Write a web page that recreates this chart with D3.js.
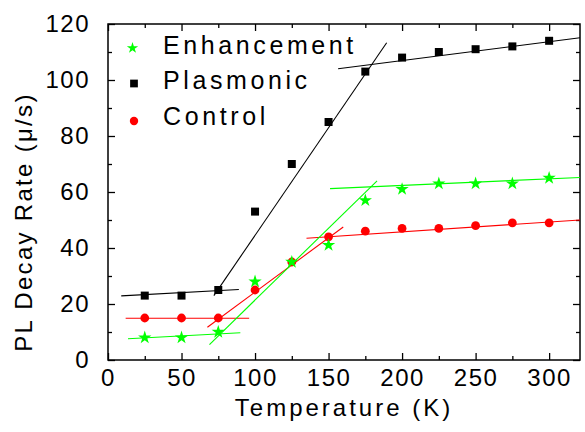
<!DOCTYPE html>
<html>
<head>
<meta charset="utf-8">
<script src="https://cdn.jsdelivr.net/npm/d3@7"></script>
<style>
  body { margin: 0; background: #fff; }
  svg text { font-family: "Liberation Sans", Arial, sans-serif; fill: #000; }
</style>
</head>
<body>
<div id="chart"></div>
<script>
// temperatures (K)
var temps = [25, 50, 75, 100, 125, 150, 175, 200, 225, 250, 275, 300];

// decay rates
var enhancement = [8, 8, 10, 28, 35, 41, 57, 61, 63, 63, 63, 65];
var plasmonic = [23, 23, 25, 53, 70, 85, 103, 108, 110, 111, 112, 114];
var control = [15, 15, 15, 25, 35, 44, 46, 47, 47, 48, 49, 49];

// linear fit segments [[x1, y1], [x2, y2]]
var plasmonicFits = [[[9, 22.9], [89, 25.2]], [[72, 23], [189.5, 113.3]], [[156.5, 104], [321, 115.1]]];
var controlFits = [[[12, 14.9], [96, 14.9]], [[67.6, 11.7], [160, 47.5]], [[135, 43.5], [321, 50]]];
var enhancementFits = [[[13.6, 7.6], [90, 9.75]], [[69, 5.5], [183, 64]], [[151, 61.2], [321, 65.2]]];

var xMajor = [0, 50, 100, 150, 200, 250, 300];
var xMinor = [25, 75, 125, 175, 225, 275];
var yMajor = [0, 20, 40, 60, 80, 100, 120];
var yMinor = [10, 30, 50, 70, 90, 110];

var legendNames = ["Enhancement", "Plasmonic", "Control"];

var width = 585, height = 432;
var padL = 108, padR = 580, padT = 24, padB = 360;

var svg = d3.select("#chart").append("svg")
    .attr("width", width)
    .attr("height", height);

var x = d3.scaleLinear().domain([0, 321]).range([padL, padR]);
var y = d3.scaleLinear().domain([0, 120]).range([padB, padT]);

function styleAxis(g) {
    g.select(".domain").remove();
    g.selectAll("line").attr("stroke", "#000").attr("stroke-width", 1.3);
    g.selectAll("text")
        .style("font-size", "24px")
        .style("letter-spacing", "1.5px");
}

// bottom axis with labels
svg.append("g").attr("transform", "translate(0," + padB + ")")
    .call(d3.axisBottom(x).tickValues(xMajor).tickSize(-7).tickPadding(9).tickFormat(d3.format("d")))
    .call(styleAxis);
svg.append("g").attr("transform", "translate(0," + padB + ")")
    .call(d3.axisBottom(x).tickValues(xMinor).tickSize(-4).tickFormat(""))
    .call(styleAxis);
// top mirror
svg.append("g").attr("transform", "translate(0," + padT + ")")
    .call(d3.axisTop(x).tickValues(xMajor).tickSize(-7).tickFormat(""))
    .call(styleAxis);
svg.append("g").attr("transform", "translate(0," + padT + ")")
    .call(d3.axisTop(x).tickValues(xMinor).tickSize(-4).tickFormat(""))
    .call(styleAxis);

// left axis with labels
svg.append("g").attr("transform", "translate(" + padL + ",0)")
    .call(d3.axisLeft(y).tickValues(yMajor).tickSize(-7).tickPadding(18).tickFormat(d3.format("d")))
    .call(styleAxis);
svg.append("g").attr("transform", "translate(" + padL + ",0)")
    .call(d3.axisLeft(y).tickValues(yMinor).tickSize(-4).tickFormat(""))
    .call(styleAxis);
// right mirror
svg.append("g").attr("transform", "translate(" + padR + ",0)")
    .call(d3.axisRight(y).tickValues(yMajor).tickSize(-7).tickFormat(""))
    .call(styleAxis);
svg.append("g").attr("transform", "translate(" + padR + ",0)")
    .call(d3.axisRight(y).tickValues(yMinor).tickSize(-4).tickFormat(""))
    .call(styleAxis);

// frame
svg.append("rect")
    .attr("x", padL).attr("y", padT)
    .attr("width", padR - padL).attr("height", padB - padT)
    .attr("fill", "none").attr("stroke", "#000").attr("stroke-width", 1.5);

// axis titles
svg.append("text")
    .attr("x", (padL + padR) / 2).attr("y", 416)
    .attr("text-anchor", "middle")
    .style("font-size", "24px").style("letter-spacing", "3px")
    .text("Temperature (K)");

svg.append("text")
    .attr("transform", "translate(32,222) rotate(-90)")
    .attr("text-anchor", "middle")
    .style("font-size", "24px").style("letter-spacing", "2.3px")
    .text("PL Decay Rate (μ/s)");

// fit lines
var line = d3.line().x(function (d) { return x(d[0]); }).y(function (d) { return y(d[1]); });

function drawFits(fits, color) {
    svg.append("g").selectAll("path").data(fits).enter().append("path")
        .attr("d", line)
        .attr("fill", "none")
        .attr("stroke", color)
        .attr("stroke-width", 1.1);
}
drawFits(plasmonicFits, "#000");
drawFits(controlFits, "#ff0000");
drawFits(enhancementFits, "#00ff00");

// markers
var square = d3.symbol().type(d3.symbolSquare).size(64);
var star = d3.symbol().type(d3.symbolStar).size(55);

svg.append("g").selectAll("path").data(plasmonic).enter().append("path")
    .attr("d", square)
    .attr("transform", function (d, i) { return "translate(" + x(temps[i]) + "," + y(d) + ")"; })
    .attr("fill", "#000");

svg.append("g").selectAll("circle").data(control).enter().append("circle")
    .attr("cx", function (d, i) { return x(temps[i]); })
    .attr("cy", function (d) { return y(d); })
    .attr("r", 4.4)
    .attr("fill", "#ff0000");

svg.append("g").selectAll("path").data(enhancement).enter().append("path")
    .attr("d", star)
    .attr("transform", function (d, i) { return "translate(" + x(temps[i]) + "," + y(d) + ")"; })
    .attr("fill", "#00ff00");

// legend
var legend = svg.append("g");
legend.append("path").attr("d", d3.symbol().type(d3.symbolStar).size(40))
    .attr("transform", "translate(132.5,48)").attr("fill", "#00ff00");
legend.append("path").attr("d", d3.symbol().type(d3.symbolSquare).size(60))
    .attr("transform", "translate(134,83.5)").attr("fill", "#000");
legend.append("circle").attr("cx", 134).attr("cy", 121).attr("r", 4.2).attr("fill", "#ff0000");

legend.selectAll("text").data(legendNames).enter().append("text")
    .attr("x", 163)
    .attr("y", function (d, i) { return 53.5 + i * 35.5; })
    .style("font-size", "25px")
    .style("letter-spacing", "3.6px")
    .text(function (d) { return d; });
</script>
</body>
</html>
